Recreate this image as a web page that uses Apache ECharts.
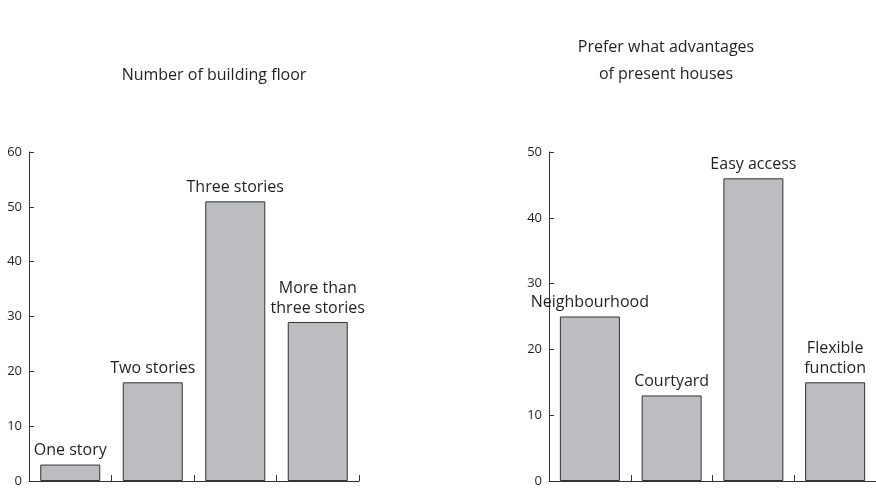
<!DOCTYPE html>
<html>
<head>
<meta charset="utf-8">
<script src="https://cdn.jsdelivr.net/npm/echarts@6/dist/echarts.min.js"></script>
<style>html,body{margin:0;padding:0;background:#fff}#c{width:876px;height:488px}</style>
</head>
<body>
<div id="c"></div>
<script>
const title1 = "Number of building floor";
const title2 = "Prefer what advantages\nof present houses";
const categories1 = ["One story", "Two stories", "Three stories", "More than three stories"];
const labels1 = ["One story", "Two stories", "Three stories", "More than\nthree stories"];
const values1 = [3, 18, 51, 29];
const categories2 = ["Neighbourhood", "Courtyard", "Easy access", "Flexible function"];
const labels2 = ["Neighbourhood", "Courtyard", "Easy access", "Flexible\nfunction"];
const values2 = [25, 13, 46, 15];
const yMax1 = 60, yMax2 = 50, yStep = 10;

const FONT = "'Open Sans', sans-serif";
const TXT = "#231f20";
const AX = "#333333";

function xAxis(gi, cats) {
  return {
    type: "category", gridIndex: gi, data: cats, boundaryGap: true,
    axisLine: { lineStyle: { color: AX, width: 1 } },
    axisTick: { show: true, inside: true, length: 6, interval: 0, lineStyle: { color: AX } },
    axisLabel: { show: false }
  };
}
function yAxis(gi, max) {
  return {
    type: "value", gridIndex: gi, min: 0, max: max, interval: yStep,
    splitLine: { show: false },
    axisLine: { show: true, lineStyle: { color: AX, width: 1 } },
    axisTick: { show: true, inside: true, length: 5, lineStyle: { color: AX } },
    axisLabel: { color: TXT, fontFamily: FONT, fontSize: 13, margin: 7 }
  };
}
function bar(i, vals, labs) {
  return {
    type: "bar", xAxisIndex: i, yAxisIndex: i, data: vals, barWidth: 60,
    itemStyle: { color: "#bcbdc0", borderColor: AX, borderWidth: 1 },
    label: {
      show: true, position: "top", distance: 4, color: TXT, fontFamily: FONT, fontSize: 16, lineHeight: 20,
      formatter: p => labs[p.dataIndex]
    },
    silent: true, animation: false
  };
}

const chart = echarts.init(document.getElementById("c"), null, { renderer: "canvas" });
chart.setOption({
  backgroundColor: "#fff",
  animation: false,
  title: [
    { text: title1, left: 209, top: 62, textAlign: "center",
      textStyle: { color: TXT, fontFamily: FONT, fontSize: 16, fontWeight: "normal" } },
    { text: title2, left: 661, top: 29, textAlign: "center",
      textStyle: { color: TXT, fontFamily: FONT, fontSize: 16, fontWeight: "normal", lineHeight: 27 } }
  ],
  grid: [
    { left: 29, top: 152, width: 330, bottom: 7 },
    { left: 549, top: 152, width: 330, bottom: 7 }
  ],
  xAxis: [xAxis(0, categories1), xAxis(1, categories2)],
  yAxis: [yAxis(0, yMax1), yAxis(1, yMax2)],
  series: [bar(0, values1, labels1), bar(1, values2, labels2)]
});
</script>
</body>
</html>
